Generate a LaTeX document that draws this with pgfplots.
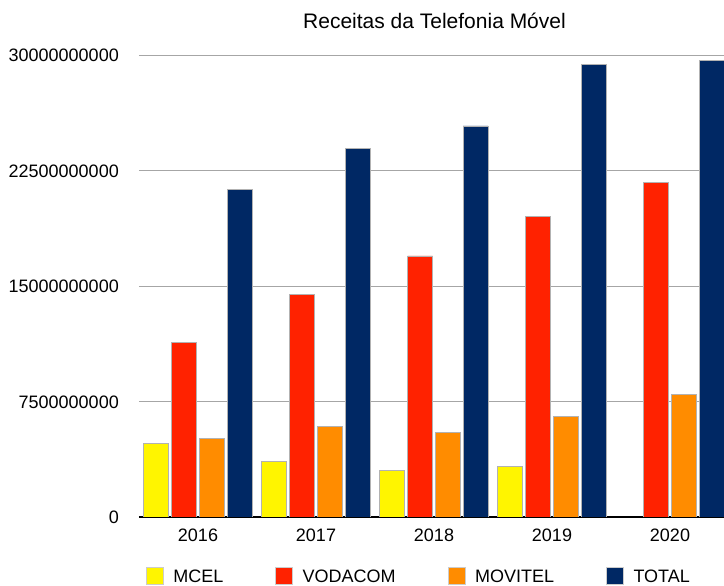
\documentclass[border=0pt]{standalone}
\usepackage{pgfplots}
\pgfplotsset{compat=1.18}
\usepackage{fontspec}
\setmainfont{Liberation Sans}
\definecolor{cMCEL}{HTML}{FFF500}
\definecolor{cVOD}{HTML}{FF2200}
\definecolor{cMOV}{HTML}{FF8C00}
\definecolor{cTOT}{HTML}{002864}
\begin{document}
\begin{tikzpicture}[x=1pt,y=1pt]
\useasboundingbox (0,0) rectangle (724,586);
\begin{axis}[
  at={(139pt,69pt)}, anchor=south west,
  scale only axis, width=590pt, height=462pt,
  xmin=-0.5, xmax=4.5, ymin=0, ymax=30000000000,
  ybar=2.8pt, bar width=25pt,
  scaled y ticks=false,
  xtick={0,1,2,3,4}, xticklabels={2016,2017,2018,2019,2020},
  ytick={0,7500000000,15000000000,22500000000,30000000000},
  yticklabels={0,7500000000,15000000000,22500000000,30000000000},
  /pgf/number format/assume math mode=true,
  major tick length=0pt,
  axis x line*=bottom, axis y line*=left,
  x axis line style={black, line width=1.4pt, -},
  y axis line style={draw=none},
  ymajorgrids, grid style={black!35, line width=0.9pt},
  xticklabel style={font=\fontsize{18}{20}\selectfont, anchor=base, yshift=-25pt},
  yticklabel style={font=\fontsize{18}{20}\selectfont, anchor=base east, inner sep=0pt, xshift=-20pt, yshift=-7pt},
  every axis plot post/.append style={draw=black!30, line width=0.6pt,
     legend image code/.code={\draw[##1, draw=black!20, line width=0.4pt] (0pt,-7.5pt) rectangle (17pt,9.5pt);}},
  legend columns=4,
  legend style={at={(0.0114,-0.108)}, anchor=north west, draw=none, fill=none, inner sep=0pt,
     font=\fontsize{18}{20}\selectfont,
     nodes={inner sep=0pt},
     /tikz/every odd column/.append style={column sep=10pt},
     /tikz/every even column/.append style={column sep=52pt}},
]
\addplot[fill=cMCEL] coordinates {(0,4.78e9) (1,3.61e9) (2,3.03e9) (3,3.31e9)};
\addplot[fill=cVOD] coordinates {(0,11.33e9) (1,14.44e9) (2,16.95e9) (3,19.54e9) (4,21.73e9)};
\addplot[fill=cMOV] coordinates {(0,5.12e9) (1,5.90e9) (2,5.47e9) (3,6.55e9) (4,7.98e9)};
\addplot[fill=cTOT] coordinates {(0,21.29e9) (1,23.91e9) (2,25.40e9) (3,29.38e9) (4,29.66e9)};
\legend{MCEL,VODACOM,MOVITEL,TOTAL}
\end{axis}
\node[anchor=base, font=\fontsize{21}{24}\selectfont] at (434.5,557.7) {Receitas da Telefonia Móvel};
\end{tikzpicture}
\end{document}
